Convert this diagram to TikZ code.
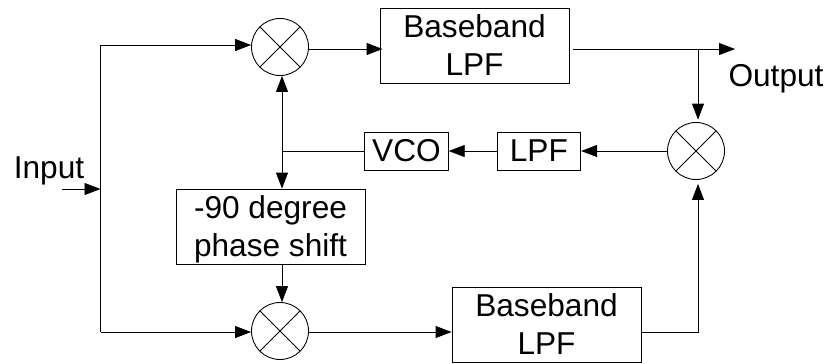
\documentclass[tikz,border=0pt]{standalone}
\usepackage{fontspec}
\setmainfont{Liberation Sans}
\usetikzlibrary{arrows.meta, positioning, calc}

\begin{document}
\begin{tikzpicture}[
    node distance=1.0cm,
    box/.style={rectangle, draw, line width=0.5pt, inner sep=0pt, align=center, font=\fontsize{18}{21.6}\selectfont},
    widebox/.style={box, minimum width=3.78cm, minimum height=1.5cm, text depth=0pt, execute at begin node={\rule{0pt}{#1}}},
    widebox/.default=19.8pt,
    smallbox/.style={box, minimum width=1.67cm, minimum height=0.76cm},
    mixer/.style={circle, draw, line width=0.5pt, inner sep=0pt, minimum size=1.14cm,
                  path picture={\draw[line width=0.45pt] (path picture bounding box.north west) -- (path picture bounding box.south east)
                                (path picture bounding box.north east) -- (path picture bounding box.south west);}},
    arrow/.style={-{Triangle[length=0.32cm, width=0.24cm]}, line width=0.5pt},
    wire/.style={line width=0.5pt},
    note/.style={font=\fontsize{18}{21.6}\selectfont, inner sep=0pt}
]
\useasboundingbox (0,0) rectangle (16.58,7.26);

\node[mixer] (mixtop) at (5.6,6.32) {};
\node[mixer] (mixbot) at (5.6,0.64) {};
\node[mixer] (mixout) at (13.92,4.24) {};

\node[widebox] (bbtop) at (9.49,6.35) {Baseband\\LPF};
\node[widebox] (bbbot) at (10.93,0.77) {Baseband\\LPF};
\node[widebox=23pt] (phase) at (5.41,2.73) {-90 degree\\phase shift};
\node[smallbox] (vco) at (8.13,4.24) {VCO};
\node[smallbox, right=0.96cm of vco] (lpf) {LPF};

\node[note] (input) at (0.98,3.84) {Input};
\node[note] (output) at (15.52,5.68) {Output};

\coordinate (instart) at (1.24,3.48);
\coordinate (injoin) at (2.01,3.48);
\coordinate (bustop) at (2.01,6.36);
\coordinate (busbot) at (2.01,0.62);
\coordinate (outjoin) at (13.96,6.28);
\coordinate (outend) at (14.7,6.28);
\coordinate (pll) at (5.64,4.24);

\draw[arrow] (instart) -- (injoin);
\draw[wire] (bustop) -- (busbot);
\draw[arrow] (bustop) -- (mixtop.west |- bustop);
\draw[arrow] (busbot) -- (mixbot.west |- busbot);

\draw[arrow] (mixtop.east |- outjoin) -- ([xshift=0.06cm]bbtop.west |- outjoin);
\draw[arrow] ([xshift=0.08cm]bbtop.east |- outjoin) -- (outend);
\draw[arrow] (outjoin) -- ([yshift=0.05cm]mixout.north -| outjoin);

\draw[arrow] (mixout.west) -- (lpf.east);
\draw[arrow] (lpf.west) -- (vco.east);
\draw[wire] (vco.west) -- (pll);
\draw[arrow] (pll) -- (pll |- mixtop.south);
\draw[arrow] (pll) -- (pll |- phase.north);
\draw[arrow] (pll |- phase.south) -- (pll |- mixbot.north);

\draw[arrow] (bbbot.east |- busbot) -| ([yshift=-0.08cm]mixout.south -| outjoin);
\draw[arrow] (mixbot.east |- busbot) -- (bbbot.west |- busbot);
\end{tikzpicture}
\end{document}
